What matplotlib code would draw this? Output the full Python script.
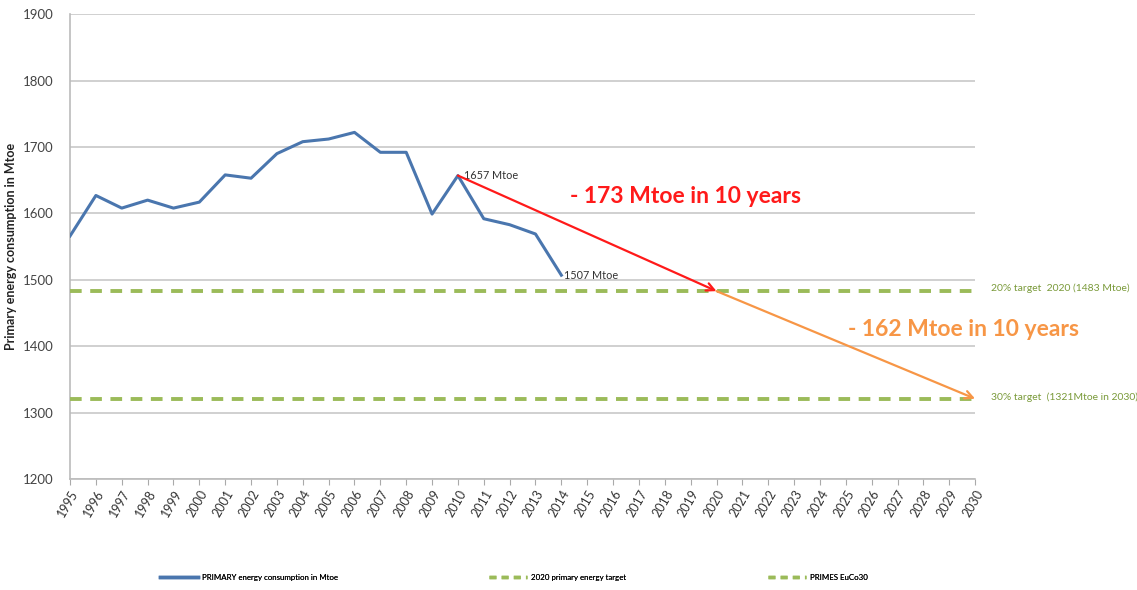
import matplotlib
matplotlib.use("Agg")
import matplotlib.pyplot as plt
from matplotlib.lines import Line2D

years = list(range(1995, 2015))
consumption = [1566, 1627, 1608, 1620, 1608, 1617, 1658, 1653, 1690, 1708,
               1712, 1722, 1692, 1692, 1599, 1657, 1592, 1583, 1569, 1507]
axis_years = list(range(1995, 2031))
target_2020 = 1483
target_2030 = 1321

plt.rcParams['font.family'] = ['Lato', 'DejaVu Sans']

fig = plt.figure(figsize=(11.37, 5.90), dpi=100)
ax = fig.add_axes([0.0616, 0.188, 0.796, 0.788])

blue = '#4a76ae'
green = '#9bbb59'
red = '#ff1a1a'
orange = '#f79646'

ax.plot(years, consumption, color=blue, lw=2.2, zorder=4)
ax.plot([axis_years[0], axis_years[-1]], [target_2020, target_2020], color=green,
        lw=2.8, dashes=(3, 2.2), zorder=3)
ax.plot([axis_years[0], axis_years[-1]], [target_2030, target_2030], color=green,
        lw=2.8, dashes=(3, 2.2), zorder=3)

# arrows
ax.annotate('', xy=(2020, target_2020), xytext=(2010, consumption[years.index(2010)]),
            arrowprops=dict(arrowstyle='->', color=red, lw=1.6, mutation_scale=14,
                            shrinkA=0, shrinkB=0), zorder=5)
ax.annotate('', xy=(2030, target_2030), xytext=(2020, target_2020),
            arrowprops=dict(arrowstyle='->', color=orange, lw=1.6, mutation_scale=14,
                            shrinkA=0, shrinkB=0), zorder=5)

ax.text(2010.25, 1657, '1657 Mtoe', fontsize=7.8, color='#333333', va='center', ha='left')
ax.text(2014.1, 1507, '1507 Mtoe', fontsize=7.8, color='#333333', va='center', ha='left')
ax.text(2014.35, 1625, '- 173 Mtoe in 10 years', fontsize=16.5, color=red,
        fontweight='bold', va='center', ha='left')
ax.text(2025.1, 1425, '- 162 Mtoe in 10 years', fontsize=16.5, color=orange,
        fontweight='bold', va='center', ha='left')

ax.text(2030.6, target_2020 + 4, '20% target  2020 (1483 Mtoe)', fontsize=7.5, color='#7a9a3a',
        va='center', ha='left', clip_on=False)
ax.text(2030.6, target_2030 + 2, '30% target  (1321Mtoe in 2030)', fontsize=7.5, color='#7a9a3a',
        va='center', ha='left', clip_on=False)

ax.set_xlim(1995, 2030)
ax.set_ylim(1200, 1900)
ax.set_yticks(range(1200, 1901, 100))
ax.set_xticks(axis_years)
ax.set_xticklabels([str(y) for y in axis_years], rotation=60, ha='right',
                   rotation_mode='anchor', fontsize=9, color='#333333')
ax.tick_params(axis='y', labelsize=9.5, labelcolor='#444444', length=0, pad=12)
ax.tick_params(axis='x', length=4, color='#aaaaaa', pad=2)
ax.grid(axis='y', color='#c8c8c8', lw=1.2)
ax.set_axisbelow(True)
for s in ['top', 'right']:
    ax.spines[s].set_visible(False)
for s in ['left', 'bottom']:
    ax.spines[s].set_color('#bbbbbb')
    ax.spines[s].set_linewidth(1.2)

ax.set_ylabel('Primary energy consumption in Mtoe', fontsize=9, fontweight='bold',
              color='#222222')
ax.yaxis.set_label_coords(-0.059, 0.5)

handles = [Line2D([], [], color=blue, lw=2.5),
           Line2D([], [], color=green, lw=2.5, dashes=(2, 1.5)),
           Line2D([], [], color=green, lw=2.5, dashes=(2, 1.5))]
labels = ['PRIMARY energy consumption in Mtoe', '2020 primary energy target', 'PRIMES EuCo30']
legend_x = [160, 489, 768]
for h, lab, lx in zip(handles, labels, legend_x):
    lg = fig.legend([h], [lab], loc='center left', bbox_to_anchor=(lx / 1137, 0.022),
                    frameon=False, fontsize=5.7, handlelength=4.8, handletextpad=0.5,
                    borderpad=0, borderaxespad=0)
    fig.add_artist(lg)

fig.savefig('out.png', dpi=100)
